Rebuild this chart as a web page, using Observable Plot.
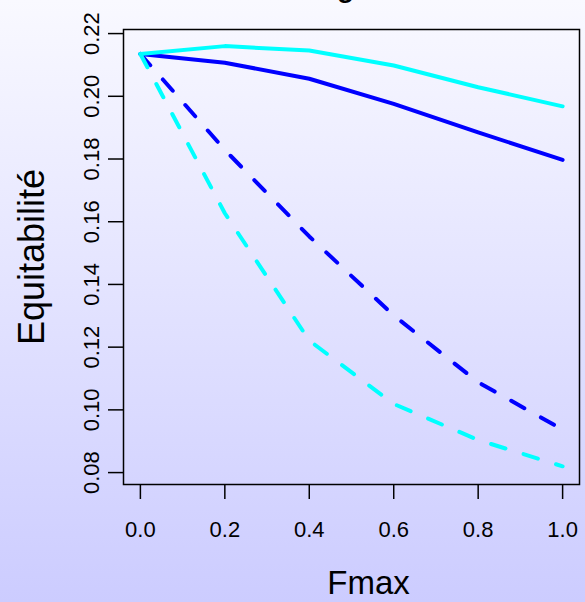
<!DOCTYPE html>
<html>
<head>
<meta charset="utf-8">
<script src="https://cdn.jsdelivr.net/npm/d3@7"></script>
<script src="https://cdn.jsdelivr.net/npm/@observablehq/plot@0.6"></script>
<style>
  html, body { margin: 0; padding: 0; }
  body { width: 585px; height: 602px; overflow: hidden;
         background: linear-gradient(to bottom, #F9F9FF 0%, #CCCCFF 100%); }
  svg { display: block; background: transparent; }
</style>
</head>
<body>
<div id="chart"></div>
<script>
// ---- data ----
const fmax = [0, 0.2, 0.4, 0.6, 0.8, 1.0];
const cyanSolid  = [0.2135, 0.2160, 0.2146, 0.2098, 0.2029, 0.1968];
const blueSolid  = [0.2135, 0.2107, 0.2056, 0.1976, 0.1885, 0.1797];
const blueDashed = [0.2135, 0.1829, 0.1553, 0.1301, 0.1088, 0.0937];
const cyanDashed = [0.2135, 0.1627, 0.1221, 0.1019, 0.0904, 0.0820];
const xTicks = [0, 0.2, 0.4, 0.6, 0.8, 1.0];
const yTicks = [0.08, 0.10, 0.12, 0.14, 0.16, 0.18, 0.20, 0.22];
const xLabel = "Fmax";
const yLabel = "Equitabilité";
const titleText = "g";

const toRows = (ys) => fmax.map((x, i) => ({x, y: ys[i]}));

const font = "'Liberation Sans', Arial, Helvetica, sans-serif";
const lw = 4;
const dash = "15,19";

const chart = Plot.plot({
  width: 585,
  height: 602,
  marginLeft: 123,
  marginRight: 6,
  marginTop: 29,
  marginBottom: 118,
  style: {fontFamily: font, background: "transparent", overflow: "visible"},
  x: {domain: [-0.04, 1.04]},
  y: {domain: [0.0762, 0.2213]},
  marks: [
    Plot.line(toRows(blueSolid),  {x: "x", y: "y", stroke: "#0000FF", strokeWidth: lw, strokeLinecap: "round", strokeLinejoin: "round"}),
    Plot.line(toRows(blueDashed), {x: "x", y: "y", stroke: "#0000FF", strokeWidth: lw, strokeDasharray: dash, strokeLinecap: "round", strokeLinejoin: "round"}),
    Plot.line(toRows(cyanSolid),  {x: "x", y: "y", stroke: "#00FFFF", strokeWidth: lw, strokeLinecap: "round", strokeLinejoin: "round"}),
    Plot.line(toRows(cyanDashed), {x: "x", y: "y", stroke: "#00FFFF", strokeWidth: lw, strokeDasharray: dash, strokeLinecap: "round", strokeLinejoin: "round"}),
    Plot.frame({stroke: "black", strokeWidth: 1.5}),
    Plot.axisX({ticks: xTicks, tickFormat: d => d.toFixed(1), tickSize: 15, tickPadding: 22,
                fontSize: 22, stroke: "black", strokeWidth: 1.5, fill: "black", label: null}),
    Plot.axisY({ticks: yTicks, tickFormat: d => d.toFixed(2), tickSize: 15, tickPadding: 10, tickRotate: -90,
                fontSize: 22, stroke: "black", strokeWidth: 1.5, fill: "black", label: null}),
    Plot.text([xLabel], {frameAnchor: "bottom", dy: 109, dx: 17, lineAnchor: "bottom",
                         fontSize: 33, fill: "black"}),
    Plot.text([yLabel], {frameAnchor: "left", dx: -80, rotate: -90, textAnchor: "middle", lineAnchor: "bottom",
                         fontSize: 36, fill: "black"}),
    Plot.text([titleText], {frameAnchor: "top", dy: -33, dx: -6, lineAnchor: "bottom",
                            fontSize: 28, fontWeight: "bold", fill: "black"})
  ]
});
document.getElementById("chart").appendChild(chart);
</script>
</body>
</html>
